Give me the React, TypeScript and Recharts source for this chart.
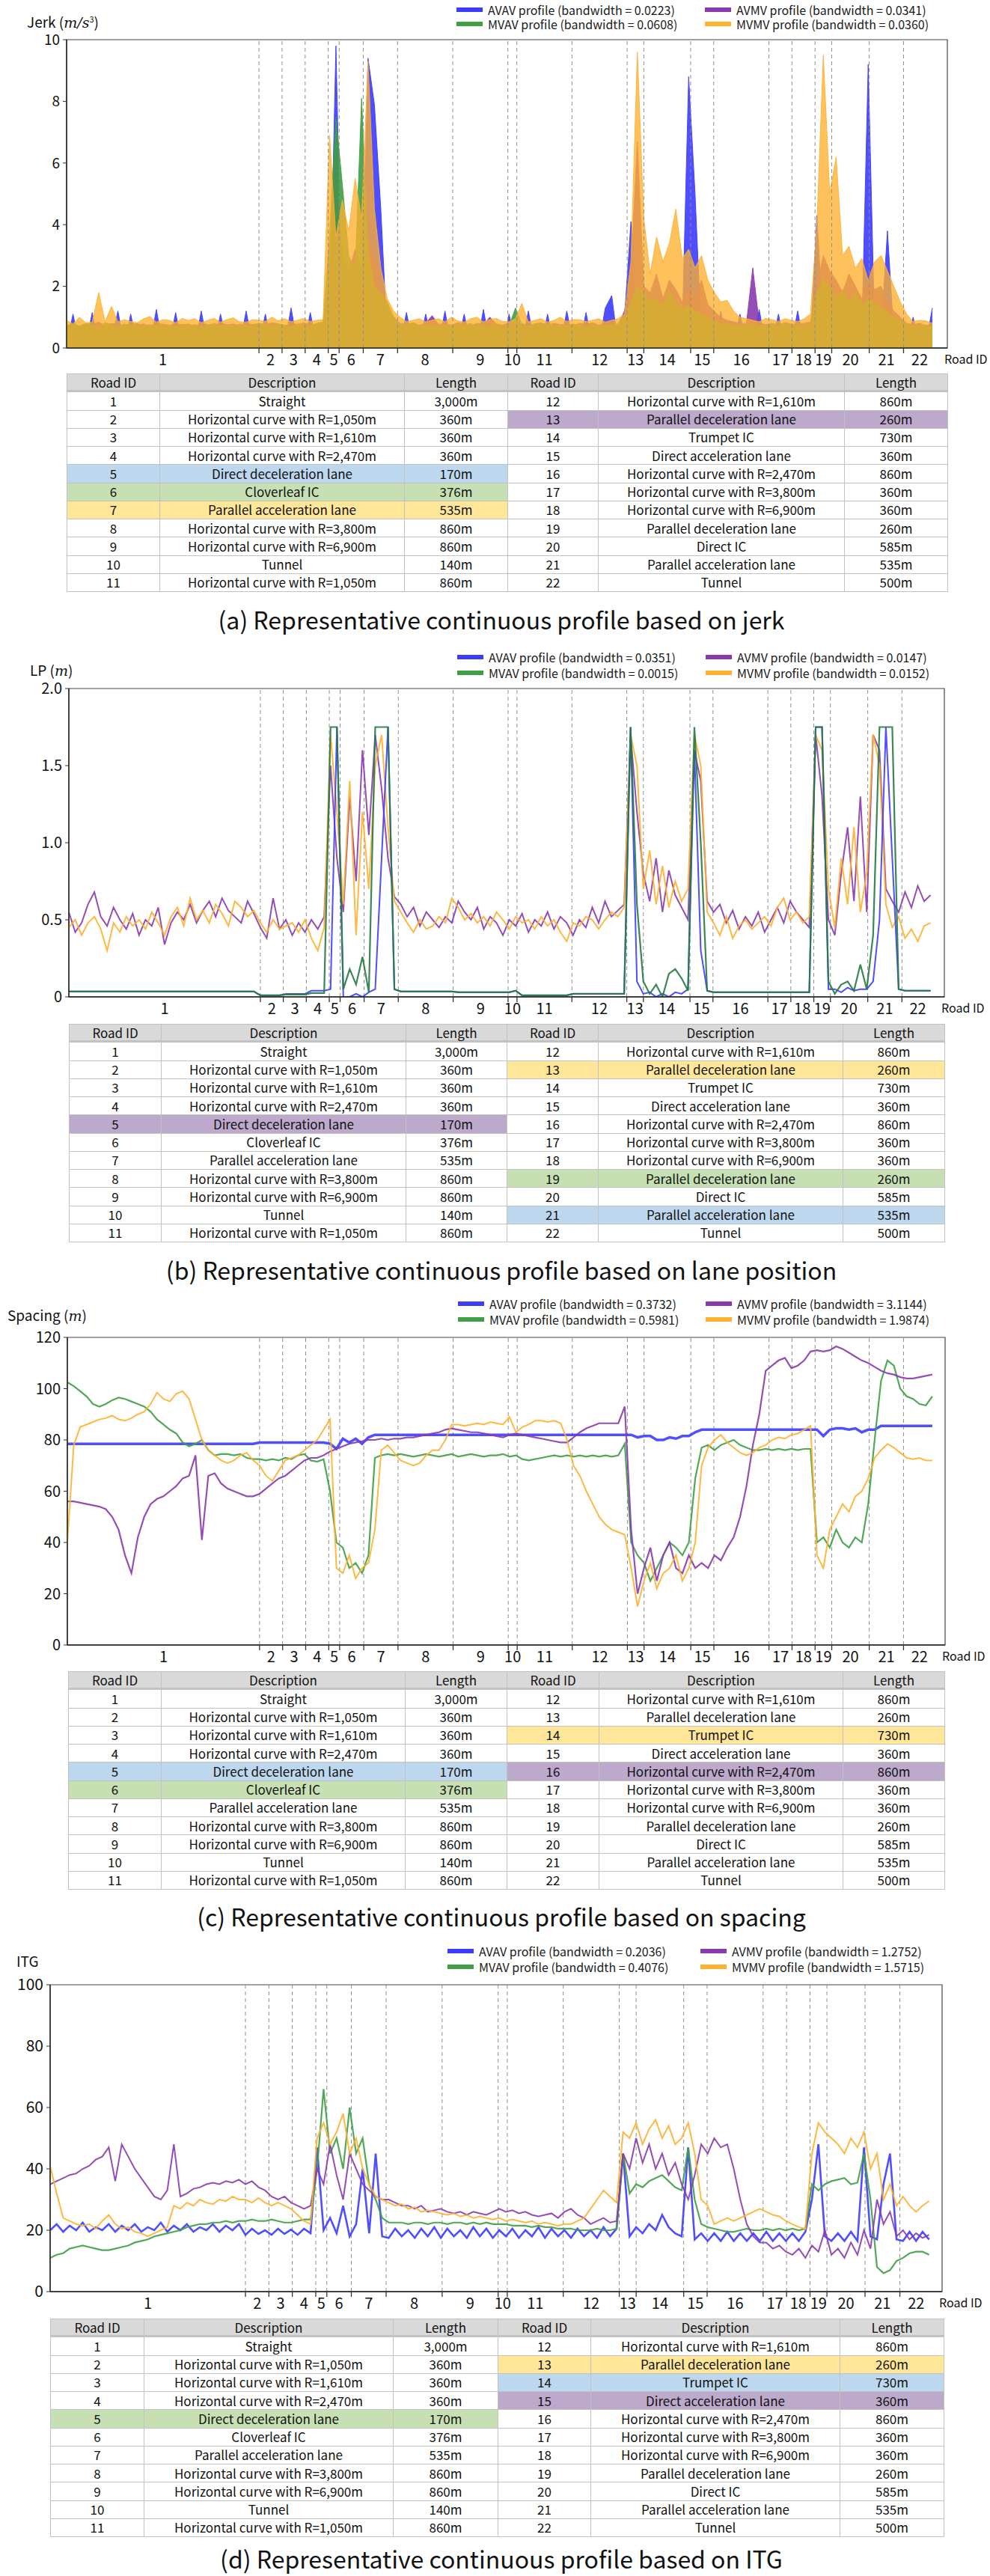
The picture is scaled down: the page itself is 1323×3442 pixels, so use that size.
import React from 'react';
import { ComposedChart, Area, Line, XAxis, YAxis, ReferenceLine, ReferenceArea } from 'recharts';

const FONT = "'Noto Sans CJK KR', 'Noto Sans', sans-serif";
const MATH = "'DejaVu Serif', 'Liberation Serif', serif";

// ---- road segments (shared by all four panels) ----
const roadIds = [1, 2, 3, 4, 5, 6, 7, 8, 9, 10, 11, 12, 13, 14, 15, 16, 17, 18, 19, 20, 21, 22];
const roadLengths = [3000, 360, 360, 360, 170, 376, 535, 860, 860, 140, 860, 860, 260, 730, 360, 860, 360, 360, 260, 585, 535, 500];
const roadLengthLabels = ['3,000m', '360m', '360m', '360m', '170m', '376m', '535m', '860m', '860m', '140m', '860m',
  '860m', '260m', '730m', '360m', '860m', '360m', '360m', '260m', '585m', '535m', '500m'];
const roadDescriptions = [
  'Straight', 'Horizontal curve with R=1,050m', 'Horizontal curve with R=1,610m', 'Horizontal curve with R=2,470m',
  'Direct deceleration lane', 'Cloverleaf IC', 'Parallel acceleration lane', 'Horizontal curve with R=3,800m',
  'Horizontal curve with R=6,900m', 'Tunnel', 'Horizontal curve with R=1,050m', 'Horizontal curve with R=1,610m',
  'Parallel deceleration lane', 'Trumpet IC', 'Direct acceleration lane', 'Horizontal curve with R=2,470m',
  'Horizontal curve with R=3,800m', 'Horizontal curve with R=6,900m', 'Parallel deceleration lane', 'Direct IC',
  'Parallel acceleration lane', 'Tunnel',
];

// profiles are read every 100 m along the route
const STEP = 100;

// ---- (a) jerk ----
const jerkAVAV = [
  0.1, 1.1, 0.1, 0.15, 1.15, 0.1, 0.1, 0.2, 1.2, 0.1,
  1.1, 0.1, 0.15, 0.1, 1.25, 0.1, 0.1, 1.15, 0.1, 0.15,
  0.1, 1.2, 0.1, 0.1, 1.1, 0.15, 0.1, 0.1, 1.2, 0.1,
  0.15, 1.1, 0.1, 0.2, 0.1, 1.3, 0.15, 0.1, 1.15, 0.1,
  0.2, 0.6, 9.8, 0.5, 0.6, 0.4, 0.5, 9.4, 7.9, 4.5,
  0.3, 0.2, 0.1, 1.15, 0.1, 0.15, 1.1, 0.1, 0.1, 1.2,
  0.1, 0.15, 1.1, 0.1, 0.1, 1.25, 0.1, 0.15, 0.1, 1.1,
  0.1, 0.1, 1.2, 0.15, 0.1, 1.1, 0.1, 0.1, 1.2, 0.15,
  0.1, 1.15, 0.1, 0.1, 1.3, 1.7, 0.1, 1.0, 4.1, 0.5,
  0.6, 0.4, 0.5, 0.6, 0.5, 0.7, 0.6, 8.8, 5.0, 0.3,
  0.2, 0.1, 1.2, 0.1, 0.15, 1.1, 0.1, 0.1, 1.25, 0.1,
  0.15, 1.1, 0.1, 0.1, 1.2, 0.1, 0.15, 4.3, 0.5, 0.4,
  0.6, 0.5, 0.4, 0.6, 0.5, 9.2, 0.6, 0.5, 3.8, 0.4,
  0.2, 0.1, 1.0, 0.1, 0.15, 1.3,
];
const jerkAVMV = [
  0.72, 0.8, 0.7, 0.78, 0.74, 0.85, 0.7, 0.8, 0.76, 0.72,
  0.8, 0.75, 0.78, 0.7, 0.82, 0.76, 0.72, 0.8, 0.74, 0.78,
  0.7, 0.8, 0.76, 0.72, 0.82, 0.75, 0.78, 0.72, 0.8, 0.76,
  0.8, 0.74, 0.82, 0.78, 0.72, 0.8, 0.76, 0.82, 0.74, 0.78,
  0.8, 2.2, 6.3, 3.0, 2.5, 3.2, 2.6, 3.5, 2.8, 1.8,
  1.3, 1.0, 0.8, 0.76, 0.82, 0.74, 0.8, 1.05, 0.76, 0.8,
  0.74, 0.82, 0.78, 0.72, 0.8, 0.76, 1.0, 0.78, 0.74, 0.82,
  0.76, 0.8, 0.72, 0.78, 0.82, 0.74, 0.8, 0.76, 0.78, 0.72,
  0.8, 0.76, 0.82, 0.74, 0.8, 0.78, 0.76, 1.2, 2.5, 6.7,
  2.0, 1.8, 2.4, 1.6, 2.2, 1.9, 1.5, 2.0, 1.7, 2.2,
  1.4, 1.2, 1.0, 0.9, 0.85, 0.8, 0.78, 2.6, 0.8, 0.76,
  0.8, 0.74, 0.82, 0.78, 0.76, 0.8, 0.85, 2.0, 3.0, 2.5,
  2.2, 1.8, 2.4, 2.0, 1.6, 2.2, 1.9, 2.0, 1.5, 1.2,
  1.0, 0.8, 0.75, 0.8, 0.72, 0.78,
];
const jerkMVAV = [
  0.7, 0.78, 0.72, 0.8, 0.75, 0.7, 0.82, 0.76, 0.72, 0.78,
  0.74, 0.8, 0.7, 0.76, 0.72, 0.78, 0.74, 0.7, 0.78, 0.72,
  0.76, 0.7, 0.74, 0.8, 0.72, 0.76, 0.7, 0.78, 0.74, 0.72,
  0.8, 0.76, 0.72, 0.78, 0.74, 0.7, 0.78, 0.76, 0.72, 0.8,
  0.85, 3.6, 7.5, 5.3, 3.0, 2.5, 8.1, 3.2, 2.0, 1.8,
  1.5, 1.0, 0.78, 0.74, 0.8, 0.72, 0.76, 0.7, 0.78, 0.74,
  0.72, 0.78, 0.74, 0.8, 0.72, 0.76, 0.7, 0.78, 0.74, 0.72,
  1.3, 0.76, 0.72, 0.78, 0.74, 0.8, 0.7, 0.76, 0.72, 0.78,
  0.74, 0.7, 0.78, 0.72, 0.76, 0.74, 0.78, 1.0, 1.5, 2.0,
  1.8, 1.5, 1.6, 1.4, 1.8, 1.5, 1.3, 1.4, 1.2, 1.1,
  1.0, 0.9, 0.8, 0.76, 0.72, 0.78, 0.74, 0.8, 0.72, 0.76,
  0.78, 0.72, 0.8, 0.74, 0.76, 0.72, 0.8, 1.8, 2.2, 2.0,
  1.6, 1.9, 1.5, 1.8, 1.4, 1.6, 1.5, 1.3, 1.2, 1.0,
  0.9, 0.76, 0.72, 0.78, 0.74, 0.7,
];
const jerkMVMV = [
  0.9, 0.78, 1.0, 0.82, 0.84, 1.8, 0.86, 1.35, 0.85, 0.92,
  0.86, 0.82, 0.95, 1.02, 0.84, 0.92, 0.9, 0.82, 0.96, 0.9,
  0.95, 0.82, 0.9, 0.96, 0.84, 0.92, 0.98, 0.85, 0.84, 0.92,
  0.9, 0.86, 1.0, 0.88, 0.95, 0.85, 0.9, 0.96, 0.86, 0.9,
  0.92, 6.9, 3.6, 4.8, 3.8, 5.5, 4.2, 9.3, 4.5, 2.6,
  1.6, 1.2, 1.0, 0.86, 0.9, 0.95, 0.85, 0.9, 0.95, 0.85,
  1.0, 0.88, 0.84, 0.95, 1.0, 0.85, 0.92, 0.96, 0.86, 0.85,
  0.95, 1.45, 0.85, 0.9, 0.95, 0.84, 0.9, 1.0, 0.86, 0.92,
  0.92, 0.86, 0.9, 0.95, 0.84, 0.9, 0.95, 1.1, 2.8, 9.6,
  4.2, 2.4, 3.6, 2.8, 3.4, 4.5, 2.9, 3.2, 2.6, 3.0,
  2.2, 1.8, 1.5, 1.55, 1.2, 1.0, 0.95, 0.9, 0.85, 0.96,
  0.92, 0.86, 0.95, 0.9, 0.86, 0.95, 1.1, 4.0, 9.5, 5.0,
  6.2, 3.0, 3.3, 2.6, 2.9, 2.2, 2.8, 3.0, 2.5, 2.0,
  1.5, 1.1, 0.86, 0.9, 0.88, 0.8,
];

// ---- (b) lane position ----
const lpAVAV = [
  0.035, 0.035, 0.035, 0.035, 0.035, 0.035, 0.035, 0.035, 0.035, 0.035,
  0.035, 0.035, 0.035, 0.035, 0.035, 0.035, 0.035, 0.035, 0.035, 0.035,
  0.035, 0.035, 0.035, 0.035, 0.035, 0.035, 0.035, 0.035, 0.035, 0.035,
  0.01, 0.01, 0.01, 0.01, 0.02, 0.02, 0.02, 0.02, 0.04, 0.04,
  0.04, 0.05, 1.75, 0.0, 0.0, 0.02, 0.0, 0.03, 0.05, 0.9,
  1.75, 0.05, 0.035, 0.035, 0.035, 0.035, 0.035, 0.035, 0.035, 0.035,
  0.035, 0.03, 0.03, 0.03, 0.03, 0.03, 0.03, 0.03, 0.03, 0.03,
  0.04, 0.01, 0.01, 0.01, 0.01, 0.01, 0.01, 0.01, 0.01, 0.02,
  0.02, 0.02, 0.02, 0.02, 0.02, 0.02, 0.02, 0.02, 1.75, 0.1,
  0.02, 0.03, 0.0, 0.02, 0.0, 0.03, 0.02, 0.05, 1.6, 0.3,
  0.04, 0.03, 0.03, 0.03, 0.03, 0.03, 0.03, 0.03, 0.03, 0.03,
  0.03, 0.03, 0.03, 0.03, 0.03, 0.03, 0.03, 1.75, 1.75, 0.05,
  0.05, 0.03, 0.06, 0.04, 0.05, 0.05, 0.1, 0.5, 1.75, 0.9,
  0.05, 0.04, 0.04, 0.04, 0.04, 0.04,
];
const lpAVMV = [
  0.55, 0.42, 0.48, 0.6, 0.68, 0.52, 0.46, 0.58, 0.5, 0.44,
  0.54, 0.4, 0.5, 0.46, 0.58, 0.34, 0.48, 0.55, 0.5, 0.6,
  0.48, 0.56, 0.62, 0.52, 0.64, 0.56, 0.52, 0.48, 0.62, 0.54,
  0.45, 0.38, 0.64, 0.44, 0.5, 0.4, 0.48, 0.42, 0.5, 0.44,
  0.52, 1.5, 0.9, 0.55, 1.3, 0.75, 1.6, 1.05, 1.7, 1.35,
  0.9, 0.65, 0.6, 0.52, 0.58, 0.46, 0.55, 0.5, 0.45, 0.52,
  0.48, 0.62, 0.55, 0.5, 0.58, 0.44, 0.52, 0.48, 0.4, 0.5,
  0.46, 0.54, 0.42, 0.5, 0.46, 0.55, 0.44, 0.52, 0.48, 0.4,
  0.5, 0.45, 0.58, 0.48, 0.62, 0.52, 0.56, 0.6, 1.7, 1.2,
  0.8, 0.62, 0.9, 0.55, 0.82, 0.66, 0.58, 0.5, 1.6, 1.4,
  0.62, 0.55, 0.6, 0.48, 0.56, 0.44, 0.52, 0.46, 0.55, 0.42,
  0.5, 0.58, 0.48, 0.62, 0.55, 0.5, 0.45, 1.7, 1.3, 0.5,
  0.4, 0.8, 1.1, 0.62, 1.3, 0.55, 1.7, 1.6, 0.7, 0.62,
  0.55, 0.68, 0.58, 0.72, 0.62, 0.66,
];
const lpMVAV = [
  0.035, 0.035, 0.035, 0.035, 0.035, 0.035, 0.035, 0.035, 0.035, 0.035,
  0.035, 0.035, 0.035, 0.035, 0.035, 0.035, 0.035, 0.035, 0.035, 0.035,
  0.035, 0.035, 0.035, 0.035, 0.035, 0.035, 0.035, 0.035, 0.035, 0.035,
  0.01, 0.01, 0.01, 0.01, 0.015, 0.015, 0.015, 0.015, 0.025, 0.025,
  0.025, 1.75, 1.75, 0.05, 0.18, 0.08, 0.26, 0.03, 1.75, 1.75,
  1.75, 0.05, 0.035, 0.035, 0.035, 0.035, 0.035, 0.035, 0.035, 0.035,
  0.035, 0.03, 0.03, 0.03, 0.03, 0.03, 0.03, 0.03, 0.03, 0.03,
  0.04, 0.01, 0.01, 0.01, 0.01, 0.01, 0.01, 0.01, 0.01, 0.02,
  0.02, 0.02, 0.02, 0.02, 0.02, 0.02, 0.02, 0.02, 1.75, 0.6,
  0.1, 0.02, 0.08, 0.0, 0.15, 0.18, 0.12, 0.04, 1.75, 1.0,
  0.04, 0.03, 0.03, 0.03, 0.03, 0.03, 0.03, 0.03, 0.03, 0.03,
  0.03, 0.03, 0.03, 0.03, 0.03, 0.03, 0.03, 1.75, 1.75, 0.1,
  0.02, 0.08, 0.1, 0.04, 0.21, 0.05, 0.4, 1.75, 1.75, 1.75,
  0.05, 0.04, 0.04, 0.04, 0.04, 0.04,
];
const lpMVMV = [
  0.45, 0.5, 0.4, 0.48, 0.52, 0.44, 0.3, 0.48, 0.42, 0.52,
  0.46, 0.5, 0.44, 0.55, 0.48, 0.4, 0.52, 0.58, 0.46, 0.64,
  0.5, 0.56, 0.48, 0.6, 0.54, 0.46, 0.62, 0.58, 0.52, 0.56,
  0.48, 0.42, 0.5, 0.44, 0.46, 0.48, 0.42, 0.5, 0.38, 0.3,
  0.45, 1.7, 1.2, 0.6, 1.4, 0.4, 1.2, 0.7, 1.5, 1.7,
  1.1, 0.62, 0.55, 0.48, 0.42, 0.5, 0.44, 0.46, 0.52, 0.48,
  0.64, 0.58, 0.5, 0.54, 0.48, 0.52, 0.46, 0.55, 0.5, 0.44,
  0.52, 0.48, 0.5, 0.44, 0.52, 0.46, 0.5, 0.42, 0.36, 0.48,
  0.46, 0.52, 0.5, 0.44, 0.5, 0.55, 0.52, 0.58, 1.7, 1.5,
  0.7, 0.95, 0.6, 0.85, 0.58, 0.75, 0.62, 0.7, 1.7, 1.5,
  0.55, 0.48, 0.4, 0.52, 0.38, 0.46, 0.5, 0.44, 0.48, 0.52,
  0.46, 0.58, 0.64, 0.5, 0.55, 0.48, 0.52, 1.7, 1.6, 0.7,
  0.45, 0.9, 0.6, 1.1, 0.55, 0.8, 1.7, 1.5, 0.6, 0.45,
  0.52, 0.38, 0.44, 0.36, 0.46, 0.48,
];

// ---- (c) spacing ----
const spAVAV = [
  78.5, 78.5, 78.5, 78.5, 78.5, 78.5, 78.5, 78.5, 78.5, 78.5,
  78.5, 78.5, 78.5, 78.5, 78.5, 78.5, 78.5, 78.5, 78.5, 78.5,
  78.5, 78.5, 78.5, 78.5, 78.5, 78.5, 78.5, 78.5, 78.5, 78.5,
  79, 79, 79, 79, 79, 79, 79, 79, 79, 79,
  79, 78.5, 76.5, 80.5, 79, 80.5, 78.5, 81, 82, 82,
  82, 82, 82, 82, 82, 82, 82, 82, 82, 82,
  82, 82, 82, 82, 82, 82, 82, 82, 82, 82,
  82, 82, 82, 82, 82, 82, 82, 82, 82, 82,
  82, 82, 82, 82, 82, 82, 82, 82, 82, 81,
  81.5, 81.5, 80, 80, 81, 80.5, 81.5, 81.5, 83, 84,
  84, 84, 84, 84, 84, 84, 84, 84, 84, 84,
  84, 84, 84, 84, 84, 84, 84, 84, 81.5, 84,
  84.5, 84.5, 84, 84.5, 83, 84, 84, 85.5, 85.5, 85.5,
  85.5, 85.5, 85.5, 85.5, 85.5, 85.5,
];
const spAVMV = [
  56, 56, 55.5, 55, 54.5, 54, 53, 50, 45, 35,
  28, 42, 50, 55, 57, 58, 60, 62, 65, 66,
  74, 41, 66, 67, 63, 61, 60, 59, 58, 58,
  59, 61, 63, 65, 66, 68, 70, 72, 73, 73,
  74, 75.5, 76.5, 77.5, 78.5, 79, 79.5, 80, 80, 80.5,
  80, 80.5, 80.5, 81, 81, 81.5, 82, 82.5, 83, 84,
  84.5, 84, 83.5, 83, 83, 82.5, 82, 81.5, 81, 82,
  82.5, 82, 81.5, 81, 80.5, 80, 79.5, 79, 79, 81,
  83, 84.5, 85.5, 86.5, 86.5, 86.5, 86.5, 93, 45, 20,
  30, 38, 25, 35, 40, 30, 28, 35, 30, 32,
  30, 35, 33, 38, 42, 50, 62, 78, 90, 107,
  109, 111, 112, 108, 109, 111, 114.5, 115, 114.5, 115,
  116.5, 115.5, 114, 112.5, 111, 110, 108.5, 107, 106, 105.5,
  104.5, 104, 104, 104.5, 105, 105.5,
];
const spMVAV = [
  102.5, 101, 99, 97, 94, 93, 94, 95.5, 96.5, 96,
  95, 94, 93, 91, 88, 86, 84, 82.5, 79, 77.5,
  78.5, 80, 76, 74, 74.5, 74.5, 74, 74.5, 73, 72.5,
  72.5, 72, 72.5, 72, 73, 72.5, 74, 74.5, 72, 71.5,
  72.5, 60, 40, 38, 30, 32, 28, 35, 73, 74,
  74.5, 74, 74.5, 74, 73.5, 74, 74.5, 74, 73.5, 74,
  74.5, 73.5, 74, 74.5, 74, 73.5, 74, 74, 74.5, 73.5,
  74, 72.5, 72, 72.5, 73, 73.5, 74, 73.5, 74, 73.5,
  74, 73.5, 74, 73.5, 74, 73.5, 74, 78.5, 40, 35,
  32, 25, 30, 35, 40, 38, 35, 40, 65, 77,
  78, 76, 78, 79, 80, 78, 77, 76, 76, 76.5,
  76, 76.5, 76, 76.5, 76, 76.5, 76.5, 40, 42, 38,
  45, 40, 38, 42, 40, 55, 80, 103, 111, 109,
  100, 97, 96, 94, 93.5, 97,
];
const spMVMV = [
  40, 78, 85, 86, 87, 88, 88.5, 89.5, 88, 87.5,
  88.5, 90, 91, 94, 98.5, 96, 95, 98, 99, 96,
  88, 80, 76, 74, 72, 71, 72, 74, 75, 72,
  70, 66, 64, 68, 72, 73, 74, 76, 78, 80,
  84, 88, 30, 28, 35, 26, 30, 32, 45, 76,
  78, 75, 72, 71, 70, 71, 74, 76, 76, 80,
  86, 86, 85.5, 86, 86.5, 86, 87, 86.5, 86, 89,
  83, 85, 86, 87.5, 87.5, 87, 87.5, 86.5, 80, 70,
  66, 60, 55, 50, 47, 45, 44, 43, 30, 15,
  25, 32, 22, 28, 30, 35, 25, 30, 40, 70,
  77, 80, 82, 79, 77, 75, 74, 75, 77, 78,
  80, 81, 80.5, 82, 82.5, 84, 85.5, 35, 30, 45,
  50, 55, 52, 58, 60, 65, 73, 76, 78.5, 77,
  75, 73, 72.5, 73, 72, 72,
];

// ---- (d) ITG ----
const itgAVAV = [
  20, 22, 19.5, 21.5, 20, 22.5, 19.5, 21, 20, 22,
  19.5, 21.5, 20, 22, 19.5, 21, 20, 22.5, 19.5, 21.5,
  20, 22, 19.5, 21, 20, 22, 19.5, 21.5, 20, 22,
  18.5, 20.5, 18.8, 20, 18.5, 20.5, 18.8, 20.2, 18.5, 20.5,
  19, 47, 20, 24, 19, 28, 18, 22, 40, 19,
  45, 18, 17.5, 20.5, 18, 20, 17.5, 20.5, 18, 21,
  17.5, 20.5, 18, 20, 17.5, 21, 18, 20.5, 17.5, 20,
  18, 20.5, 17.5, 20, 18, 21, 17.5, 20.5, 18, 20,
  17.5, 20.5, 18, 20, 17.5, 21, 18, 20.5, 45, 18,
  21, 19, 22, 20, 25, 21, 19, 18, 47, 17,
  19, 16.5, 19, 16.5, 19.5, 16.5, 19, 16.5, 19, 16.5,
  19.5, 16.5, 19, 16.5, 19, 16.5, 19.5, 30, 48, 18,
  16.5, 19, 16.5, 19.5, 16.5, 47, 18, 17, 35, 45,
  17, 16.5, 19.5, 16.5, 19.5, 17,
];
const itgAVMV = [
  35, 36, 37, 38, 38.5, 40, 41, 43, 44, 47,
  36, 48, 44, 40, 37, 34, 31, 30, 33, 48,
  31, 32, 33.5, 34, 35, 35.5, 35, 36, 35.5, 36.5,
  35, 36, 34, 33, 31, 30, 31, 29, 28, 27,
  28, 40, 35, 48, 38, 30, 45, 40, 35, 33,
  31, 30, 30, 29, 28, 28, 27, 28, 26, 26.5,
  27, 26, 25.5, 26, 25, 26, 25.5, 25, 26, 27,
  26, 26.5, 25.5, 26, 25, 24.5, 25, 25.5, 24, 26,
  27, 25, 24, 22, 23, 24, 22.5, 23, 45, 40,
  50, 42, 48, 40, 45, 38, 42, 35, 30, 38,
  48, 45, 50, 47, 48, 40, 30, 22, 18, 16,
  16, 14, 15, 13, 12, 14, 11, 15, 13, 20,
  12, 14, 11, 16, 12, 20, 14, 30, 22, 26,
  18, 20, 17, 19, 17.5, 18.5,
];
const itgMVAV = [
  11, 12, 12.5, 14, 14.5, 15, 14.5, 14, 13.5, 13.5,
  14, 14.5, 15, 16, 16.5, 17, 18, 18.5, 19, 19.5,
  20, 21, 21.5, 22, 22, 22.5, 22.5, 23, 22.5, 23,
  23, 23.5, 23, 23, 23.5, 23, 22.5, 22.5, 23, 23.5,
  23.5, 40, 66, 45, 50, 40, 60, 45, 50, 35,
  30, 24, 22.5, 22.5, 22.5, 22, 22.5, 22.5, 22, 22.5,
  22.5, 22, 22.5, 22.5, 22, 22.5, 22, 22.5, 22, 22,
  22, 21.5, 21.5, 21.5, 21, 21.5, 21, 21, 20.5, 20.5,
  20.5, 20, 20, 20, 20.5, 20, 20, 20.5, 45, 32,
  35, 34, 36, 37, 38, 36, 34, 33, 47, 30,
  22, 21, 20.5, 20, 19.5, 19.5, 20, 20.5, 20, 20,
  20.5, 20, 20.5, 20, 20.5, 20, 20.5, 35, 33, 35,
  36, 36.5, 37, 35, 35.5, 45, 30, 8, 6, 7,
  10, 11, 12.5, 13, 13, 12,
];
const itgMVMV = [
  41, 32, 24, 23, 22, 21.5, 22, 20.5, 23, 25,
  22, 20.5, 21, 19.5, 19, 18, 19, 20, 21, 28,
  27, 29, 28, 30, 29, 28.5, 30, 29.5, 31, 30,
  30, 29, 30.5, 29, 28, 29, 28, 27, 25, 23,
  22, 50, 55, 48, 52, 58, 45, 50, 40, 35,
  31, 30, 29, 28, 28.5, 27, 27.5, 26, 26.5, 26,
  25.5, 25, 25.5, 24.5, 25, 24, 24.5, 24, 23.5, 24,
  23, 23.5, 23, 22.5, 23, 22, 22.5, 22, 21.5, 22,
  22, 23, 24, 27, 30, 33, 31, 29, 52, 50,
  55, 48, 53, 56, 50, 54, 48, 50, 55, 45,
  30, 28, 22, 23, 24, 23, 24, 25, 26, 27,
  26, 25, 24.5, 23, 22, 21, 20.5, 45, 55, 52,
  50, 48, 45, 50, 47, 52, 40, 45, 30, 35,
  28, 31, 28, 26, 28, 29.5,
];

// ---- shared helpers ----
type Key = 'AVAV' | 'AVMV' | 'MVAV' | 'MVMV';
const COLORS: Record<Key, string> = { AVAV: '#3c3cff', AVMV: '#8a3aae', MVAV: '#3f9f44', MVMV: '#ffb02e' };

const boundaries: number[] = [];
roadLengths.reduce((acc, len, i) => {
  const end = acc + len;
  if (i < roadLengths.length - 1) boundaries.push(end);
  return end;
}, 0);
const centers = roadLengths.map((len, i) => (i === 0 ? 0 : boundaries[i - 1]) + len / 2);
const xTicks = [...boundaries, ...centers].sort((a, b) => a - b);

const toRows = (a: number[], b: number[], c: number[], d: number[]) =>
  a.map((v, i) => ({ x: i * STEP, AVAV: v, AVMV: b[i], MVAV: c[i], MVMV: d[i] }));

const RoadTick = (props: any) => {
  const { x, y, payload, fs } = props;
  const v = payload?.value;
  if (boundaries.includes(v)) {
    return <line x1={x} x2={x} y1={y} y2={y + 7} stroke="#333" strokeWidth={1.3} />;
  }
  const ci = centers.indexOf(v);
  if (ci < 0) return <g />;
  return (
    <text x={x} y={y + 14} textAnchor="middle" dominantBaseline="central" fontSize={fs} fontFamily={FONT} fill="#111">
      {roadIds[ci]}
    </text>
  );
};

type ChartProps = {
  data: any[];
  plotLeft: number; plotRight: number; plotTop: number; plotBottom: number;
  xMax: number; yMax: number; yTicks: number[]; yFmt?: (v: number) => string;
  tickFs: number; roadFs: number;
  kind: 'area' | 'line';
  order: Key[];
  widths?: Partial<Record<Key, number>>;
  colors?: Partial<Record<Key, string>>;
};

function ProfileChart(p: ChartProps) {
  const W = 1323;
  const padTop = 20;
  const h = p.plotBottom - p.plotTop + padTop + 35;
  const col = (k: Key) => p.colors?.[k] ?? COLORS[k];
  return (
    <div style={{ position: 'absolute', left: 0, top: p.plotTop - padTop }}>
      <ComposedChart width={W} height={h} data={p.data}
        margin={{ top: padTop, right: W - p.plotRight, bottom: 5, left: 0 }}>
        <XAxis type="number" dataKey="x" domain={[0, p.xMax]} ticks={xTicks} interval={0}
          tick={(t: any) => <RoadTick {...t} fs={p.roadFs} />} tickLine={false} tickSize={0} tickMargin={0}
          axisLine={{ stroke: '#222', strokeWidth: 1.4 }} height={30} allowDataOverflow
          label={{ value: 'Road ID', position: 'right', offset: -4, fontSize: 16, fill: '#111', fontFamily: FONT }} />
        <YAxis type="number" domain={[0, p.yMax]} ticks={p.yTicks} interval={0} width={p.plotLeft}
          tickFormatter={p.yFmt} tick={{ fontSize: p.tickFs, fill: '#111', fontFamily: FONT }}
          tickLine={{ stroke: '#333' }} tickSize={5} tickMargin={4}
          axisLine={{ stroke: '#222', strokeWidth: 1.4 }} allowDataOverflow />
        {boundaries.map((b) => (
          <ReferenceLine key={b} x={b} stroke="#8d8d8d" strokeDasharray="5 4" strokeWidth={1} />
        ))}
        <ReferenceArea x1={0} x2={p.xMax} y1={0} y2={p.yMax} fill="none" fillOpacity={0}
          stroke="#444" strokeWidth={1.2} />
        {p.order.map((k) =>
          p.kind === 'area' ? (
            <Area key={k} type="linear" dataKey={k} stroke={col(k)} strokeWidth={1}
              fill={col(k)} fillOpacity={k === 'MVMV' ? 0.78 : 0.9} strokeOpacity={0.9}
              dot={false} activeDot={false} isAnimationActive={false} />
          ) : (
            <Line key={k} type="linear" dataKey={k} stroke={col(k)} strokeWidth={p.widths?.[k] ?? 2}
              strokeOpacity={0.9} dot={false} activeDot={false} isAnimationActive={false} />
          )
        )}
      </ComposedChart>
    </div>
  );
}

function ProfileLegend({ rowY, colX, bw }: { rowY: [number, number]; colX: [number, number]; bw: string[] }) {
  const cells: [Key, number, number, string][] = [
    ['AVAV', 0, 0, bw[0]], ['AVMV', 1, 0, bw[1]], ['MVAV', 0, 1, bw[2]], ['MVMV', 1, 1, bw[3]],
  ];
  return (
    <>
      {cells.map(([k, c, r, b]) => (
        <div key={k} style={{
          position: 'absolute', left: colX[c], top: rowY[r] - 10, height: 20, lineHeight: '20px', display: 'flex',
          alignItems: 'center', whiteSpace: 'nowrap', fontFamily: FONT, fontSize: 16, color: '#1a1a1a',
        }}>
          <span style={{ display: 'inline-block', width: 35, height: 6, background: COLORS[k], marginRight: 7 }} />
          {k} profile (bandwidth = {b})
        </div>
      ))}
    </>
  );
}

function YTitle({ left, cy, children }: { left: number; cy: number; children: React.ReactNode }) {
  return (
    <div style={{ position: 'absolute', left, top: cy - 12, lineHeight: '24px', fontSize: 19, fontFamily: FONT, color: '#111', whiteSpace: 'nowrap' }}>
      {children}
    </div>
  );
}

const HL: Record<string, string> = { blue: '#bdd7ee', green: '#c6e0b4', yellow: '#ffe699', purple: '#bda9cc' };

function RoadTable({ top, left, cols, hl }: { top: number; left: number; cols: number[]; hl: Record<number, string> }) {
  const rowH = 24.25;
  const line = '1.5px solid #c2c2c2';
  const cell = (txt: React.ReactNode, bg: string, key: string, header = false) => (
    <div key={key} style={{
      background: bg, borderRight: line, borderBottom: header ? '3px solid #c2c2c2' : line, boxSizing: 'border-box',
      display: 'flex', alignItems: 'center', justifyContent: 'center', fontFamily: FONT, fontSize: 17,
      lineHeight: '18px', color: '#111', whiteSpace: 'nowrap',
    }}>{txt}</div>
  );
  const heads = ['Road ID', 'Description', 'Length', 'Road ID', 'Description', 'Length'];
  const out: React.ReactNode[] = heads.map((h, i) => cell(h, '#d9d9d9', 'h' + i, true));
  for (let r = 0; r < 11; r++) {
    [r, r + 11].forEach((ri) => {
      const bg = hl[roadIds[ri]] ? HL[hl[roadIds[ri]]] : '#fff';
      out.push(cell(roadIds[ri], bg, `i${ri}`));
      out.push(cell(roadDescriptions[ri], bg, `d${ri}`));
      out.push(cell(roadLengthLabels[ri], bg, `l${ri}`));
    });
  }
  return (
    <div style={{
      position: 'absolute', left, top, display: 'grid', gridTemplateColumns: cols.map((c) => c + 'px').join(' '),
      gridAutoRows: rowH + 'px', borderTop: line, borderLeft: line,
    }}>{out}</div>
  );
}

function Caption({ cy, text }: { cy: number; text: string }) {
  return (
    <div style={{ position: 'absolute', left: 20, width: 1300, top: cy - 20, lineHeight: '40px', textAlign: 'center', fontSize: 32, fontFamily: FONT, color: '#111' }}>
      {text}
    </div>
  );
}

const mathI = (s: string) => <span style={{ fontFamily: MATH, fontStyle: 'italic' }}>{s}</span>;
const fmtLP = (v: number) => (v === 0 ? '0' : v.toFixed(1));

export default function App() {
  const jerkRows = toRows(jerkAVAV, jerkAVMV, jerkMVAV, jerkMVMV);
  const lpRows = toRows(lpAVAV, lpAVMV, lpMVAV, lpMVMV);
  const spRows = toRows(spAVAV, spAVMV, spMVAV, spMVMV);
  const itgRows = toRows(itgAVAV, itgAVMV, itgMVAV, itgMVMV);

  return (
    <div style={{ position: 'absolute', left: 0, top: 0, width: 1323, height: 3442, background: '#fff', overflow: 'hidden' }}>
      {/* (a) jerk */}
      <YTitle left={36} cy={25}>Jerk ({mathI('m/s')}<sup style={{ fontSize: 11 }}>3</sup>)</YTitle>
      <ProfileLegend rowY={[13, 32]} colX={[610, 942]} bw={['0.0223', '0.0341', '0.0608', '0.0360']} />
      <ProfileChart data={jerkRows} plotLeft={89} plotRight={1266} plotTop={53} plotBottom={465}
        xMax={13734} yMax={10} yTicks={[0, 2, 4, 6, 8, 10]} tickFs={19} roadFs={20}
        kind="area" order={['AVAV', 'AVMV', 'MVAV', 'MVMV']} />
      <RoadTable top={499} left={89} cols={[124, 327, 138, 121, 329, 138]}
        hl={{ 5: 'blue', 6: 'green', 7: 'yellow', 13: 'purple' }} />
      <Caption cy={827} text="(a) Representative continuous profile based on jerk" />

      {/* (b) lane position */}
      <YTitle left={40} cy={895}>LP ({mathI('m')})</YTitle>
      <ProfileLegend rowY={[878, 899]} colX={[611, 943]} bw={['0.0351', '0.0147', '0.0015', '0.0152']} />
      <ProfileChart data={lpRows} plotLeft={92} plotRight={1262} plotTop={920} plotBottom={1332}
        xMax={13716} yMax={2} yTicks={[0, 0.5, 1, 1.5, 2]} yFmt={fmtLP} tickFs={20} roadFs={20}
        kind="line" order={['AVMV', 'MVMV', 'AVAV', 'MVAV']} widths={{ AVMV: 2, MVMV: 2, AVAV: 2, MVAV: 2.2 }}
        colors={{ MVAV: '#267a42' }} />
      <RoadTable top={1368} left={92} cols={[123, 327, 135, 122, 327, 136]}
        hl={{ 5: 'purple', 13: 'yellow', 19: 'green', 21: 'blue' }} />
      <Caption cy={1696} text="(b) Representative continuous profile based on lane position" />

      {/* (c) spacing */}
      <YTitle left={10} cy={1757}>Spacing ({mathI('m')})</YTitle>
      <ProfileLegend rowY={[1742, 1763]} colX={[612, 943]} bw={['0.3732', '3.1144', '0.5981', '1.9874']} />
      <ProfileChart data={spRows} plotLeft={90} plotRight={1263} plotTop={1787} plotBottom={2198}
        xMax={13700} yMax={120} yTicks={[0, 20, 40, 60, 80, 100, 120]} tickFs={20} roadFs={20}
        kind="line" order={['AVAV', 'MVAV', 'AVMV', 'MVMV']} widths={{ AVAV: 3.5, MVAV: 2.2, AVMV: 2.2, MVMV: 2 }} />
      <RoadTable top={2233} left={91} cols={[124, 326, 136, 123, 326, 136]}
        hl={{ 5: 'blue', 6: 'green', 14: 'yellow', 16: 'purple' }} />
      <Caption cy={2560} text="(c) Representative continuous profile based on spacing" />

      {/* (d) ITG */}
      <YTitle left={22} cy={2620}>ITG</YTitle>
      <ProfileLegend rowY={[2607, 2628]} colX={[598, 936]} bw={['0.2036', '1.2752', '0.4076', '1.5715']} />
      <ProfileChart data={itgRows} plotLeft={67} plotRight={1259} plotTop={2652} plotBottom={3062}
        xMax={13700} yMax={100} yTicks={[0, 20, 40, 60, 80, 100]} tickFs={21} roadFs={20}
        kind="line" order={['AVAV', 'MVAV', 'AVMV', 'MVMV']} widths={{ AVAV: 2.6, MVAV: 2.2, AVMV: 2, MVMV: 2 }} />
      <RoadTable top={3098} left={67} cols={[125, 333, 140, 124, 333, 139]}
        hl={{ 5: 'green', 13: 'yellow', 14: 'blue', 15: 'purple' }} />
      <Caption cy={3418} text="(d) Representative continuous profile based on ITG" />
    </div>
  );
}
